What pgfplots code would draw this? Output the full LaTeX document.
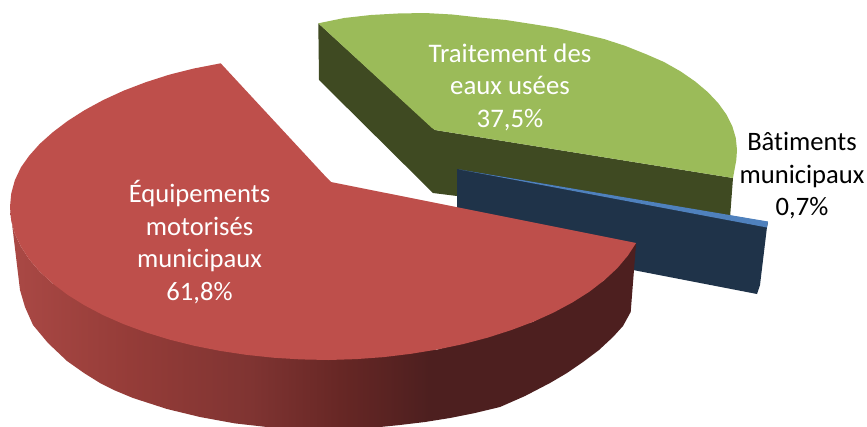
\documentclass[border=0pt]{standalone}
\usepackage{pgfplots}
\pgfplotsset{compat=1.18}
\usepackage{fontspec}
\setmainfont[Ligatures=NoCommon]{Carlito}
\definecolor{redtop}{HTML}{BE4F4B}
\definecolor{greentop}{HTML}{9BBB59}
\definecolor{greenside}{HTML}{3F4A22}
\definecolor{blueside}{HTML}{1F3349}
\definecolor{bluetop}{HTML}{4F81BD}
\pgfdeclarehorizontalshading{redside}{100bp}{
  rgb(0bp)=(0.667,0.286,0.271);
  rgb(25bp)=(0.667,0.286,0.271);
  rgb(34.6bp)=(0.584,0.235,0.22);
  rgb(44.2bp)=(0.5,0.204,0.196);
  rgb(51.4bp)=(0.404,0.153,0.145);
  rgb(58.5bp)=(0.302,0.122,0.122);
  rgb(75bp)=(0.302,0.122,0.122);
  rgb(100bp)=(0.302,0.122,0.122)}
\begin{document}
\begin{tikzpicture}
\path[use as bounding box] (0,0) rectangle (867pt,426pt);
\begin{axis}[
  scale only axis, width=867pt, height=426pt,
  xmin=0, xmax=867, ymin=0, ymax=426, y dir=reverse,
  hide axis, clip=true]
% green side
\addplot[draw=none, fill=greenside] coordinates {
 (318.3,23.3) (435,130) (733,178) (730,218) (457,196) (433,193) (319,80)} -- cycle;
% green top
\addplot[draw=none, fill=greentop] coordinates {
 (318.3,23.3) (344.2,18) (370.8,15) (397.8,13.5) (425,13) (452.2,14.5) (479.2,17.5) (505.8,20)
 (531.7,24) (556.9,28) (581,33.5) (604,39) (625.6,46) (645.6,54) (664,62) (680.6,71.4)
 (695.2,81.5) (707.8,92.1) (718.2,103.1) (726.4,114.5) (732.3,126.2) (735.8,138) (737,150)
 (736.3,160) (735,167) (733,178) (435,130) (432,128)} -- cycle;
% blue side
\addplot[draw=none, fill=blueside] coordinates {
 (457,169) (768,222) (767,227) (760,285) (757,294) (633,270) (457,236)} -- cycle;
% blue top
\addplot[draw=none, fill=bluetop] coordinates {
 (459,169.4) (768,221.5) (767,227.5)} -- cycle;
% red side
\addplot[draw=none, shading=redside] coordinates {
 (636.1,243) (630.7,312) (623,326) (613,337) (599,350) (583,362) (567,373) (550,383) (525,396) (500,407)
 (475,413) (450,418) (425,422) (400,425) (370,428) (330,430) (290,429) (267,427) (235,423.4) (200,417) (167,409)
 (133,398) (115,390.5) (100,383) (84,373) (67,361)
 (48,343) (33,325) (25,307) (20,290) (10,207) (11.2,220.3) (14.8,233.6) (20.9,246.6)
 (29.2,259.3) (39.8,271.7) (52.7,283.5) (328.5,360) (437.4,349.5) (533.2,321.8) (604.3,280.2)} -- cycle;
% red top
\addplot[draw=none, fill=redtop] coordinates {
 (636.1,243) (627.8,255.7) (617.2,268.3) (604.3,280.2) (589.4,291.7) (572.5,302.4) (553.7,312.5)
 (533.2,321.8) (511.2,330.1) (487.8,337.6) (463.1,344.1) (437.4,349.5) (410.9,353.8) (383.8,357.1)
 (356.3,359.1) (328.5,360) (300.7,359.4) (273.2,357.7) (246.1,354.8) (219.6,350.8) (193.9,345.7)
 (169.2,339.5) (145.8,332.3) (123.8,324.2) (103.3,315.2) (84.5,305.3) (67.6,294.8) (52.7,283.5)
 (39.8,271.7) (29.2,259.3) (20.9,246.6) (14.8,233.6) (11.2,220.3) (10,207) (11.2,193.7) (14.8,180.4)
 (20.9,167.4) (29.2,155.7) (39.8,143.8) (52.7,132.3) (67.6,121) (84.5,110.2) (103.3,100) (123.8,90.6)
 (145.8,82.2) (169.2,74.7) (193.9,68.5) (220.7,63.3) (327,178) (331,182)} -- cycle;
\node[white, align=center, font=\fontsize{26.6}{32.5}\selectfont] at (axis cs:199.5,242) {Équipements\\motorisés\\municipaux\\61,8\%};
\node[white, align=center, font=\fontsize{26.8}{32.5}\selectfont] at (axis cs:510,87) {Traitement des\\eaux usées\\37,5\%};
\node[black, align=center, font=\fontsize{26.6}{32.5}\selectfont] at (axis cs:802,176) {Bâtiments\\municipaux\\0,7\%};
\end{axis}
\end{tikzpicture}
\end{document}
